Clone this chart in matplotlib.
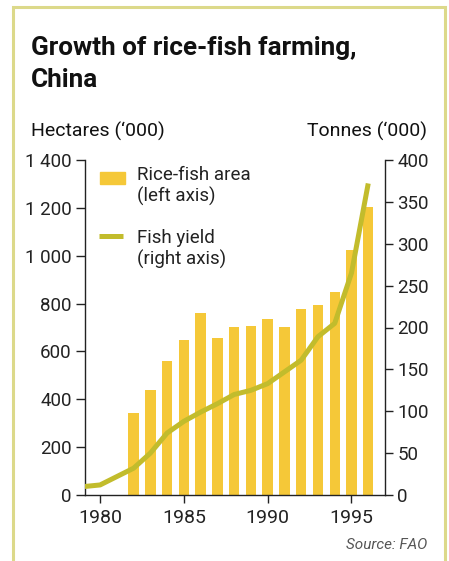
import matplotlib.pyplot as plt
from matplotlib.patches import Rectangle
from matplotlib.lines import Line2D
from matplotlib.ticker import FuncFormatter

plt.rcParams['font.family'] = ['Roboto', 'DejaVu Sans']

# rice-fish area, thousand hectares (left axis)
area_years = [1982, 1983, 1984, 1985, 1986, 1987, 1988, 1989,
              1990, 1991, 1992, 1993, 1994, 1995, 1996]
area_values = [344, 439, 560, 648, 762, 657, 702, 707,
               735, 703, 778, 795, 850, 1025, 1205]

# fish yield, thousand tonnes (right axis)
yield_years = [1979, 1980, 1981, 1982, 1983, 1984, 1985, 1986, 1987,
               1988, 1989, 1990, 1991, 1992, 1993, 1994, 1995, 1996]
yield_values = [10, 12, 22, 32, 50, 74, 88, 99, 109,
                120, 125, 133, 147, 161, 189, 205, 265, 372]

x_ticks = [1980, 1985, 1990, 1995]
left_ticks = [0, 200, 400, 600, 800, 1000, 1200, 1400]
right_ticks = [0, 50, 100, 150, 200, 250, 300, 350, 400]

bar_color = '#f5c838'
line_color = '#c2bc2c'
frame_color = '#dcd98a'
W, H = 449, 561

fig = plt.figure(figsize=(W / 100, H / 100), dpi=100)

def fx(px):
    return px / W

def fy(py):
    return 1 - py / H

ax = fig.add_axes([fx(85), fy(495), fx(300), 335 / H])
ax2 = ax.twinx()

ax.bar(area_years, area_values, width=0.62, color=bar_color, zorder=2)
ax2.plot(yield_years, yield_values, color=line_color, lw=3.6,
         solid_capstyle='butt', zorder=3)

ax.set_xlim(1979.1, 1997)
ax.set_ylim(0, 1400)
ax2.set_ylim(0, 400)
ax.set_xticks(x_ticks)
ax.set_yticks(left_ticks)
ax2.set_yticks(right_ticks)

def spaced(v, pos):
    return f'{int(v):,}'.replace(',', ' ')

ax.yaxis.set_major_formatter(FuncFormatter(spaced))

for a in (ax, ax2):
    a.patch.set_visible(False)
    a.spines['top'].set_visible(False)
    for s in a.spines.values():
        s.set_linewidth(1.0)
        s.set_color('#222222')
ax.spines['right'].set_visible(False)
ax2.spines['left'].set_visible(False)
ax2.spines['bottom'].set_visible(False)
ax.set_zorder(ax2.get_zorder() - 1)
ax2.patch.set_visible(False)

ax.tick_params(axis='y', length=6.5, width=1, pad=3, labelsize=13.5, colors='#222222')
ax.tick_params(axis='x', length=6, width=1, pad=4, labelsize=14, colors='#222222')
ax2.tick_params(axis='y', length=6, width=1, pad=3, labelsize=13.5, colors='#222222')

# title and axis captions
fig.text(fx(31), fy(55), 'Growth of rice-fish farming,', fontsize=18.8,
         fontweight='bold', va='baseline', ha='left', color='#111111')
fig.text(fx(31), fy(87), 'China', fontsize=18.8,
         fontweight='bold', va='baseline', ha='left', color='#111111')
fig.text(fx(31), fy(137), 'Hectares (\u2018000)', fontsize=14,
         va='baseline', ha='left', color='#111111')
fig.text(fx(427), fy(137), 'Tonnes (\u2018000)', fontsize=14,
         va='baseline', ha='right', color='#111111')
fig.text(fx(427), fy(549), 'Source: FAO', fontsize=11, style='italic',
         va='baseline', ha='right', color='#555555')

# legend
fig.patches.append(Rectangle((fx(100), fy(184)), fx(25), 12 / H,
                             transform=fig.transFigure, color=bar_color))
fig.lines.append(Line2D([fx(99), fx(123)], [fy(236), fy(236)], lw=3.6,
                        color=line_color, transform=fig.transFigure,
                        solid_capstyle='butt'))
fig.text(fx(137), fy(180), 'Rice-fish area', fontsize=13.5, va='baseline',
         color='#222222')
fig.text(fx(137), fy(202), '(left axis)', fontsize=13.5, va='baseline',
         color='#222222')
fig.text(fx(137), fy(243), 'Fish yield', fontsize=13.5, va='baseline',
         color='#222222')
fig.text(fx(137), fy(265), '(right axis)', fontsize=13.5, va='baseline',
         color='#222222')

# frame
fig.patches.append(Rectangle((fx(13), -0.05), fx(432), fy(7) + 0.05,
                             transform=fig.transFigure, fill=False,
                             edgecolor=frame_color, lw=2.2))

fig.savefig('out.png', dpi=100)
